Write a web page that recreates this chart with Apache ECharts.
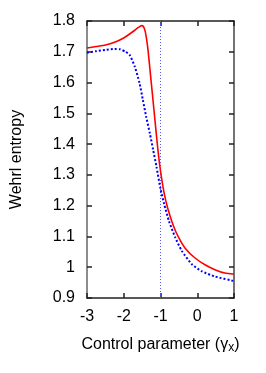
<!DOCTYPE html>
<html>
<head>
<meta charset="utf-8">
<script src="https://cdn.jsdelivr.net/npm/echarts@6/dist/echarts.min.js"></script>
<style>html,body{margin:0;padding:0;background:#fff;}#c{width:266px;height:373px;}</style>
</head>
<body>
<div id="c"></div>
<script>
var redX = [-3.0,-2.75,-2.5,-2.25,-2.0,-1.85,-1.7,-1.6,-1.52,-1.47,-1.42,-1.38,-1.34,-1.25,-1.16,-1.07,-1.0,-0.9,-0.8,-0.65,-0.5,-0.33,-0.06,0.21,0.48,0.75,1.0];
var redY = [1.712,1.717,1.722,1.731,1.745,1.757,1.770,1.779,1.785,1.783,1.768,1.742,1.706,1.598,1.489,1.381,1.313,1.240,1.190,1.135,1.095,1.062,1.030,1.008,0.992,0.981,0.977];
var blueX = [-3.0,-2.75,-2.5,-2.25,-2.1,-1.95,-1.84,-1.7,-1.57,-1.48,-1.39,-1.29,-1.2,-1.11,-1.0,-0.9,-0.77,-0.6,-0.42,-0.15,0.12,0.48,1.0];
var blueY = [1.697,1.702,1.706,1.709,1.708,1.700,1.690,1.652,1.598,1.544,1.489,1.435,1.381,1.327,1.255,1.205,1.150,1.097,1.053,1.010,0.987,0.970,0.955];
var markX = [-1, -1];
var markY = [0.9, 1.8];
var xTicks = {min: -3, max: 1, interval: 1};
var yTicks = {min: 0.9, max: 1.8, interval: 0.1};

function pairs(xs, ys) { return xs.map(function (x, i) { return [x, ys[i]]; }); }

var font = 'Liberation Sans, Arial, sans-serif';
function axisCommon(color) {
  return {
    axisLine: {show: true, onZero: false, lineStyle: {color: color, width: 1.5}},
    axisTick: {show: true, inside: true, length: 5, lineStyle: {color: '#222', width: 1.5}},
    splitLine: {show: false}
  };
}
var chart = echarts.init(document.getElementById('c'));
chart.setOption({
  animation: false,
  backgroundColor: '#fff',
  grid: {left: 87, right: 32, top: 21, bottom: 75},
  xAxis: [
    Object.assign({type: 'value', position: 'bottom', min: xTicks.min, max: xTicks.max, interval: xTicks.interval,
      axisLabel: {color: '#000', fontSize: 16, fontFamily: font, margin: 11},
      name: '{a|Control parameter (γ}{s|x}{a|)}', nameLocation: 'middle', nameGap: 37,
      nameTextStyle: {rich: {a: {fontSize: 16, fontFamily: font, color: '#000'}, s: {fontSize: 12, fontFamily: font, color: '#000', verticalAlign: 'bottom', padding: [7, 0, 0, 0]}}}
    }, axisCommon('#222')),
    Object.assign({type: 'value', position: 'top', min: xTicks.min, max: xTicks.max, interval: xTicks.interval,
      axisLabel: {show: false}}, axisCommon('#222'))
  ],
  yAxis: [
    Object.assign({type: 'value', position: 'left', min: yTicks.min, max: yTicks.max, interval: yTicks.interval,
      axisLabel: {color: '#000', fontSize: 16, fontFamily: font, margin: 12, formatter: function (v) { return String(Math.round(v * 10) / 10); }},
      name: 'Wehrl entropy', nameLocation: 'middle', nameGap: 62,
      nameTextStyle: {fontSize: 16, fontFamily: font, color: '#000'}
    }, axisCommon('#666')),
    Object.assign({type: 'value', position: 'right', min: yTicks.min, max: yTicks.max, interval: yTicks.interval,
      axisLabel: {show: false}}, axisCommon('#444'))
  ],
  series: [
    {type: 'line', data: pairs(markX, markY), symbol: 'none', silent: true,
      lineStyle: {color: '#5555ff', width: 1, type: [1, 2]}},
    {type: 'line', data: pairs(blueX, blueY), symbol: 'none', smooth: 0.2,
      lineStyle: {color: '#0000ff', width: 2, type: [2, 2]}},
    {type: 'line', data: pairs(redX, redY), symbol: 'none', smooth: 0.2,
      lineStyle: {color: '#ff0000', width: 1.6}}
  ]
});
</script>
</body>
</html>
